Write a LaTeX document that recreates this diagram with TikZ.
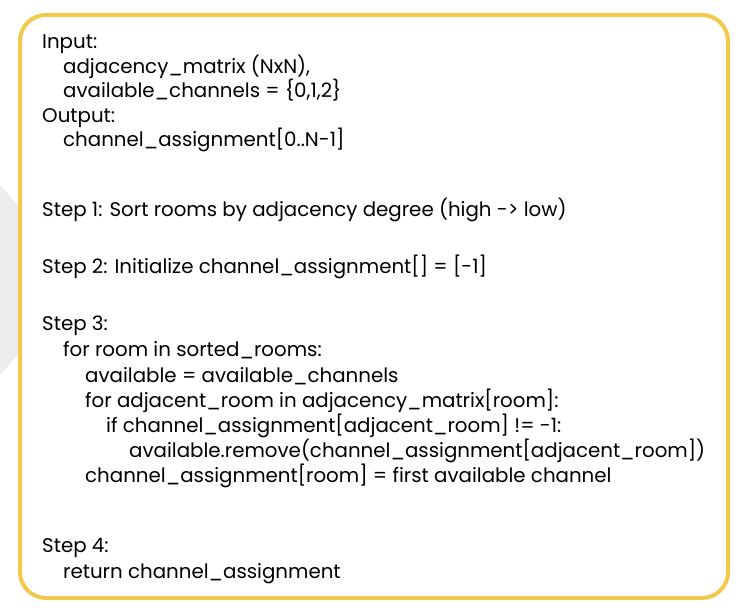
\documentclass[tikz,border=0pt]{standalone}
\usepackage{fontspec}
\setmainfont{Poppins}
\definecolor{bord}{HTML}{F2C94C}
\definecolor{greybg}{HTML}{EDEDED}
\begin{document}
\begin{tikzpicture}[x=1pt,y=-1pt,
  ln/.style={anchor=base west,inner sep=0pt,font=\fontsize{19.8}{22}\selectfont}]
\useasboundingbox (0,0) rectangle (742,612);
\fill[white] (0,0) rectangle (742,612);
\fill[greybg] (0,185) -- (40,230) -- (40,330) -- (0,375) -- cycle;
\draw[bord,line width=4pt,fill=white,rounded corners=26pt] (20,15) rectangle (728,598);
\node[ln] (l1) at (42,49) {Input:};
\node[ln] (l2) at (63,73.5) {adjacency\_matrix (NxN),};
\node[ln] (l3) at (63,98) {available\_channels = \{0,1,2\}};
\node[ln] (l4) at (42,122.5) {Output:};
\node[ln] (l5) at (63,147) {channel\_assignment[0..N-1]};
\node[ln] (l6) at (42,217) {Step 1: Sort rooms by adjacency degree (high -> low)};
\node[ln] (l7) at (42,274) {Step 2: Initialize channel\_assignment[] = [-1]};
\node[ln] (l8) at (42,331) {Step 3:};
\node[ln] (l9) at (63,356) {for room in sorted\_rooms:};
\node[ln] (l10) at (85,382) {available = available\_channels};
\node[ln] (l11) at (85,407) {for adjacent\_room in adjacency\_matrix[room]:};
\node[ln] (l12) at (106,432) {if channel\_assignment[adjacent\_room] != -1:};
\node[ln] (l13) at (129,457) {available.remove(channel\_assignment[adjacent\_room])};
\node[ln] (l14) at (85,482) {channel\_assignment[room] = first available channel};
\node[ln] (l15) at (42,552) {Step 4:};
\node[ln] (l16) at (63,578) {return channel\_assignment};
\end{tikzpicture}
\end{document}
